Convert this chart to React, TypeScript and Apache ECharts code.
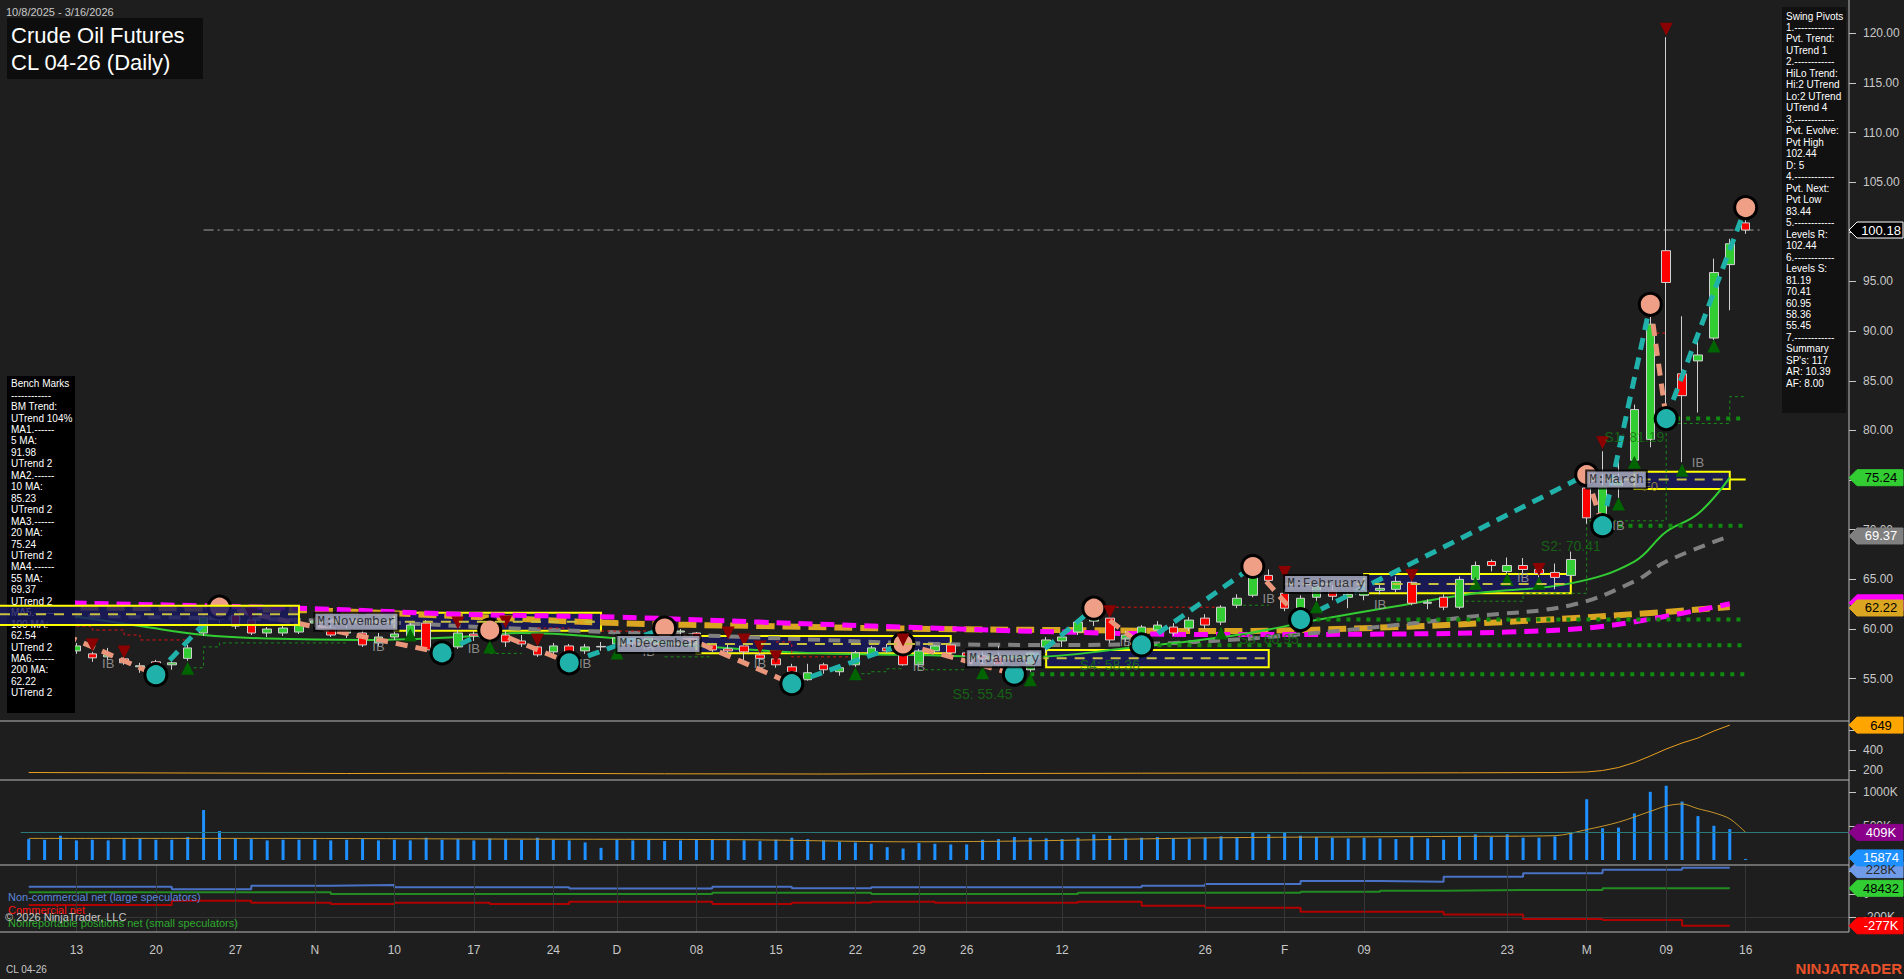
import React, { useEffect, useRef } from 'react';
import * as echarts from 'echarts';

const FONT = '"Liberation Sans", Arial, sans-serif';

const dates = [
  '2025-10-08','2025-10-09','2025-10-10','2025-10-13','2025-10-14','2025-10-15','2025-10-16','2025-10-17',
  '2025-10-20','2025-10-21','2025-10-22','2025-10-23','2025-10-24','2025-10-27','2025-10-28','2025-10-29','2025-10-30','2025-10-31',
  '2025-11-03','2025-11-04','2025-11-05','2025-11-06','2025-11-07','2025-11-10','2025-11-11','2025-11-12','2025-11-13','2025-11-14',
  '2025-11-17','2025-11-18','2025-11-19','2025-11-20','2025-11-21','2025-11-24','2025-11-25','2025-11-26','2025-11-28',
  '2025-12-01','2025-12-02','2025-12-03','2025-12-04','2025-12-05','2025-12-08','2025-12-09','2025-12-10','2025-12-11','2025-12-12',
  '2025-12-15','2025-12-16','2025-12-17','2025-12-18','2025-12-19','2025-12-22','2025-12-23','2025-12-24','2025-12-26',
  '2025-12-29','2025-12-30','2025-12-31','2026-01-02','2026-01-05','2026-01-06','2026-01-07','2026-01-08','2026-01-09',
  '2026-01-12','2026-01-13','2026-01-14','2026-01-15','2026-01-16','2026-01-20','2026-01-21','2026-01-22','2026-01-23',
  '2026-01-26','2026-01-27','2026-01-28','2026-01-29','2026-01-30','2026-02-02','2026-02-03','2026-02-04','2026-02-05','2026-02-06',
  '2026-02-09','2026-02-10','2026-02-11','2026-02-12','2026-02-13','2026-02-17','2026-02-18','2026-02-19','2026-02-20',
  '2026-02-23','2026-02-24','2026-02-25','2026-02-26','2026-02-27','2026-03-02','2026-03-03','2026-03-04','2026-03-05','2026-03-06',
  '2026-03-09','2026-03-10','2026-03-11','2026-03-12','2026-03-13','2026-03-16'
];
const padCats = ['p1', 'p2', 'p3', 'p4', 'p5', 'p6'];
const categories = dates.concat(padCats);

const openP = [
  60.7, 60.4, 59.8, 57.8, 57.5, 57.2, 57.0, 56.2, 56.7, 56.4,
  57.05, 59.6, 61.3, 61.4, 60.9, 59.6, 59.6, 59.7, 60.6, 60.1,
  59.6, 59.6, 58.6, 59.2, 59.3, 60.6, 58.0, 58.2, 59.5, 59.3,
  59.4, 58.8, 58.2, 57.7, 58.3, 57.8, 58.2, 58.5, 59.0, 58.7,
  59.2, 59.7, 59.6, 58.4, 58.0, 58.3, 57.4, 57.0, 56.2, 54.9,
  56.4, 55.7, 56.4, 57.4, 58.1, 57.4, 56.4, 57.8, 58.4, 57.6,
  57.3, 57.2, 56.4, 55.9, 58.2, 58.8, 59.7, 60.8, 61.1, 59.0,
  59.2, 59.9, 60.2, 60.1, 61.1, 60.7, 62.4, 63.4, 65.4, 63.6,
  62.1, 63.2, 63.9, 63.2, 63.4, 63.9, 64.0, 64.7, 62.6, 63.2,
  62.2, 65.0, 66.8, 65.8, 66.4, 66.0, 65.7, 65.4, 74.2, 71.3,
  74.4, 77.0, 79.1, 98.1, 85.7, 87.0, 89.3, 96.7, 100.9
];
const highP = [
  61.0, 60.6, 60.0, 58.6, 57.7, 58.1, 57.2, 56.6, 56.9, 56.9,
  58.4, 61.6, 62.2, 61.7, 61.1, 60.2, 60.5, 61.0, 61.2, 60.4,
  60.3, 59.9, 59.6, 59.9, 60.6, 60.9, 58.6, 59.9, 59.8, 59.9,
  59.8, 59.4, 58.5, 58.6, 58.5, 58.5, 58.7, 59.4, 59.3, 59.5,
  60.1, 60.0, 59.7, 58.6, 58.4, 58.6, 57.8, 57.4, 56.5, 56.5,
  56.6, 56.4, 57.8, 58.3, 58.5, 58.5, 58.0, 58.4, 58.7, 57.9,
  57.8, 58.3, 56.7, 57.9, 59.2, 59.6, 61.0, 62.1, 61.6, 59.8,
  60.4, 60.8, 60.6, 61.2, 61.5, 62.4, 63.5, 66.3, 66.0, 64.0,
  63.4, 64.9, 64.4, 63.6, 64.3, 64.6, 65.3, 65.0, 63.0, 63.5,
  65.3, 66.8, 67.0, 67.2, 67.15, 66.3, 66.6, 67.8, 75.55, 77.9,
  77.4, 82.6, 92.7, 119.6, 91.5, 89.1, 97.3, 99.3, 102.44
];
const lowP = [
  60.1, 59.6, 57.4, 57.5, 56.7, 56.9, 56.4, 55.6, 55.4, 55.9,
  56.8, 59.3, 60.6, 60.0, 59.4, 59.2, 59.3, 59.5, 60.2, 59.2,
  59.1, 58.2, 58.3, 58.9, 59.1, 57.8, 57.6, 58.0, 58.8, 59.0,
  58.2, 58.2, 57.2, 57.3, 56.6, 57.5, 57.8, 58.3, 58.3, 58.5,
  59.0, 59.3, 58.9, 57.7, 57.3, 56.8, 56.7, 56.1, 54.5, 54.8,
  55.5, 55.3, 56.2, 57.2, 57.6, 56.3, 56.2, 57.6, 57.4, 56.9,
  56.2, 56.2, 55.45, 55.7, 57.6, 58.2, 59.4, 60.3, 58.6, 58.7,
  58.4, 59.6, 59.3, 59.8, 60.0, 60.4, 62.1, 63.2, 64.5, 61.8,
  60.95, 62.6, 62.9, 62.1, 62.9, 63.5, 63.7, 62.4, 62.0, 61.9,
  62.0, 64.6, 65.8, 65.6, 65.5, 65.2, 64.0, 65.0, 70.6, 70.41,
  73.2, 76.8, 78.3, 81.19, 76.8, 81.8, 89.1, 92.1, 99.8
];
const closeP = [
  60.4, 59.8, 57.6, 58.3, 57.1, 57.4, 56.6, 56.3, 56.5, 56.6,
  58.1, 61.2, 61.0, 60.3, 59.6, 60.0, 60.1, 60.6, 60.8, 59.4,
  59.9, 58.4, 59.2, 59.5, 60.4, 57.9, 58.2, 59.6, 59.3, 59.7,
  58.7, 58.5, 57.4, 58.3, 57.7, 58.2, 58.25, 59.1, 58.6, 59.2,
  59.7, 59.8, 59.0, 57.9, 57.8, 57.7, 57.05, 56.4, 55.7, 55.6,
  55.9, 56.1, 57.6, 58.1, 57.8, 56.4, 57.8, 58.3, 57.6, 57.3,
  57.0, 56.4, 55.9, 57.6, 58.9, 59.2, 60.7, 61.4, 58.9, 59.4,
  60.2, 60.4, 59.6, 60.9, 60.4, 62.2, 63.1, 65.3, 64.9, 62.1,
  63.1, 64.3, 63.3, 63.5, 63.9, 64.1, 64.8, 62.6, 62.7, 62.2,
  65.0, 66.4, 66.4, 66.4, 66.0, 65.6, 65.2, 67.0, 71.2, 74.3,
  74.9, 82.1, 90.7, 94.9, 83.5, 87.6, 95.9, 98.8, 100.18
];

// volume in thousands of contracts
const volumeK = [
  310, 300, 360, 290, 300, 290, 310, 320, 300, 300, 340, 740, 430, 320, 310, 290, 300, 300,
  300, 290, 300, 310, 290, 300, 290, 330, 300, 310, 290, 320, 310, 300, 330, 300, 290, 260, 180,
  300, 290, 300, 280, 290, 300, 310, 300, 290, 280, 300, 330, 310, 290, 270, 260, 240, 190, 170, 250, 240, 230,
  230, 300, 310, 340, 330, 320, 310, 330, 380, 360, 320, 330, 340, 320, 310, 330, 350, 340, 400, 380,
  410, 360, 340, 330, 320, 330, 320, 310, 350, 320, 300, 350, 380, 340, 380, 330, 330, 350, 400,
  900, 470, 480, 690, 1010, 1100, 866, 650, 507, 458, 15.874
];
const volMaIdx = [0, 15, 30, 45, 55, 62, 75, 90, 96, 98, 100, 102, 103, 104, 105, 106, 107, 108];
const volMaVal = [320, 320, 310, 300, 270, 280, 330, 350, 360, 450, 560, 720, 800, 830, 760, 700, 610, 409];

const p2Idx = [0, 10, 20, 30, 40, 50, 60, 70, 80, 90, 96, 98, 99, 100, 101, 102, 103, 104, 105, 106, 107];
const p2Val = [175, 170, 165, 168, 162, 160, 165, 168, 170, 172, 175, 180, 195, 225, 275, 340, 410, 470, 520, 590, 649];

// moving averages (sampled)
const ma20Idx = [0, 3, 7, 11, 15, 21, 27, 31, 37, 43, 49, 55, 63, 69, 76, 81, 86, 91, 97, 101, 103, 105, 107];
const ma20Val = [61.8, 61.24, 60.3, 59.4, 59.05, 58.9, 59.2, 59.6, 59.07, 58.2, 57.6, 57.4, 57.2, 58.06, 59.4, 60.9, 62.3, 63.6, 64.6, 66.8, 69.8, 71.6, 75.24];
const ma55Idx = [0, 20, 30, 40, 50, 57, 65, 72, 78, 86, 91, 97, 101, 103, 107];
const ma55Val = [61.4, 60.8, 60.1, 59.5, 58.9, 58.5, 58.4, 58.6, 59.2, 60.4, 61.3, 62.4, 64.8, 66.8, 69.37];
const ma100Idx = [0, 17, 27, 37, 46, 55, 65, 75, 86, 93, 98, 102, 107];
const ma100Val = [62.7, 62.1, 61.5, 61.2, 60.7, 60.2, 59.7, 59.45, 59.5, 59.7, 60.1, 61.0, 62.54];
const ma200Idx = [0, 17, 27, 37, 46, 55, 65, 75, 86, 95, 101, 107];
const ma200Val = [62.2, 61.9, 61.3, 60.6, 60.3, 60.05, 59.9, 59.8, 60.2, 60.9, 61.5, 62.22];

// swing pivots (alternating high / low)
const pivotIdx = [0, 8, 12, 26, 29, 34, 40, 48, 55, 62, 67, 70, 77, 80, 98, 99, 102, 103, 108];
const pivotPrice = [61.0, 55.4, 62.2, 57.6, 59.9, 56.6, 60.1, 54.5, 58.5, 55.45, 62.1, 58.4, 66.3, 60.95, 75.55, 70.41, 92.7, 81.19, 102.44];

// support levels
const supStartIdx = [63, 71, 81, 100, 103];
const supLevel = [55.45, 58.36, 60.95, 70.41, 81.19];
const supText = ['S5: 55.45', 'S4: 58.36', 'S3: 60.95', 'S2: 70.41', 'S1: 81.19'];
const supTextIdx = [60, 68, 78, 97, 101];
const supTextPrice = [53.45, 56.4, 59.0, 68.4, 79.35];

// monthly boxes
const boxLabelIdx = [18, 37, 59, 79, 98];
const boxLabel = ['M:November', 'M:December', 'M:January', 'M:February', 'M:March'];
const boxStartIdx = [23, 42, 64, 84, 101];
const boxEndIdx = [36, 58, 78, 97, 107];
const boxTop = [61.65, 59.3, 57.89, 65.54, 75.85];
const boxBottom = [59.83, 57.56, 56.15, 63.6, 74.1];
const boxMid = [60.74, 58.5, 57.05, 64.54, 75.06];
const octBoxEndIdx = 17;
const octBoxTop = 62.35, octBoxBottom = 60.4, octBoxMid = 61.5;

// markers
const upTriIdx = [10, 24, 29, 37, 52, 60, 63, 75, 81, 91, 93, 95, 100, 101, 104, 106];
const upTriPrice = [56.05, 59.4, 58.2, 57.6, 55.5, 55.6, 54.9, 59.6, 62.25, 64.6, 65.0, 64.6, 72.6, 76.8, 76.0, 88.5];
const downTriIdx = [1, 4, 6, 14, 27, 30, 32, 44, 45, 46, 47, 55, 68, 79, 87, 95, 99, 103];
const downTriPrice = [62.6, 58.4, 57.7, 61.5, 60.6, 60.7, 58.9, 59.6, 58.9, 58.2, 57.2, 58.9, 61.75, 65.7, 65.4, 66.0, 78.75, 120.4];
const ibIdx = [5, 22, 28, 35, 39, 46, 56, 69, 78, 85, 94, 100, 105];
const ibPrice = [56.55, 58.2, 58.06, 56.55, 57.7, 56.5, 56.2, 58.7, 63.1, 62.5, 65.2, 70.4, 76.8];

// trailing stops (step lines) [barIndex, price]
const trailGreen = [
  [[10, 56.1], [11, 58.2], [12, 58.6], [20, 58.6]],
  [[29, 57.55], [31, 57.55]],
  [[40, 57.2], [43, 57.2]],
  [[52, 55.5], [53, 55.7], [54, 56.0], [55, 56.0]],
  [[56, 55.9], [59, 55.9]],
  [[76, 62.4], [78, 62.4]],
  [[90, 62.8], [94, 63.6], [98, 70.9], [103, 80.7], [107, 83.4], [108, 83.4]]
];
const trailRed = [
  [[3, 60.3], [4, 59.9], [6, 59.4], [7, 58.9], [10, 58.6]],
  [[32, 60.1], [34, 60.1]],
  [[36, 59.8], [39, 59.8]],
  [[47, 58.7], [48, 57.2], [52, 57.2]],
  [[68, 62.2], [75, 62.2]],
  [[102, 89.8], [103, 89.8]]
];

// COT weekly (thousands)
const cotIdx = [0, 9, 14, 19, 23, 29, 34, 43, 48, 53, 57, 66, 70, 74, 80, 85, 89, 94, 99, 104, 107];
const cotNonComm = [63, 40, 71, 77, 57, 57, 46, 63, 48, 57, 57, 57, 71, 86, 112, 106, 150, 180, 210, 228, 228];
const cotSmall = [14, 14, 14, 0, 0, 0, 0, 10, 10, 0, 0, 10, 10, 10, 19, 28, 34, 34, 48, 48.4, 48.4];
const cotComm = [-97, -59, -76, -88, -76, -88, -68, -88, -76, -68, -76, -68, -103, -120, -155, -155, -178, -218, -227, -277, -277];

const tickDates = ['2025-10-13','2025-10-20','2025-10-27','2025-11-03','2025-11-10','2025-11-17','2025-11-24','2025-12-01','2025-12-08','2025-12-15','2025-12-22','2025-12-29','2026-01-02','2026-01-12','2026-01-26','2026-02-02','2026-02-09','2026-02-23','2026-03-02','2026-03-09','2026-03-16'];
const tickLabels = ['13','20','27','N','10','17','24','D','08','15','22','29','26','12','26','F','09','23','M','09','16'];
const priceTicks = [55, 60, 65, 70, 75, 80, 85, 90, 95, 100, 105, 110, 115, 120];
const priceLabelTicks = [55, 60, 65, 70, 80, 85, 90, 95, 105, 110, 115, 120];

const benchLines = ['Bench Marks','------------','BM Trend:','UTrend 104%','MA1.------','5 MA:','91.98','UTrend 2','MA2.------','10 MA:','85.23','UTrend 2','MA3.------','20 MA:','75.24','UTrend 2','MA4.------','55 MA:','69.37','UTrend 2','MA5.------','100 MA:','62.54','UTrend 2','MA6.------','200 MA:','62.22','UTrend 2'];
const swingLines = ['Swing Pivots','1.------------','Pvt. Trend:','UTrend 1','2.------------','HiLo Trend:','Hi:2 UTrend','Lo:2 UTrend','UTrend 4','3.------------','Pvt. Evolve:','Pvt High','102.44','D: 5','4.------------','Pvt. Next:','Pvt Low','83.44','5.------------','Levels R:','102.44','6.------------','Levels S:','81.19','70.41','60.95','58.36','55.45','7.------------','Summary',"SP's: 117",'AR: 10.39','AF: 8.00'];

const GRID_L = 20.76;
const AXIS_X = 1849;

function pts(idx: number[], val: number[]) {
  return idx.map((k, i) => [categories[k], val[i]]);
}
function segs(list: number[][][]) {
  const out: any[] = [];
  list.forEach((s) => {
    s.forEach((p) => out.push([categories[p[0]], p[1]]));
    out.push([categories[s[s.length - 1][0]], '-']);
  });
  return out;
}

function buildOption() {
  const labelSet = new Set(tickDates);
  const labelMap: Record<string, string> = {};
  tickDates.forEach((d, i) => (labelMap[d] = tickLabels[i]));
  const intervalFn = (_i: number, v: string) => labelSet.has(v);

  const xAxis = [0, 1, 2, 3].map((g) => ({
    type: 'category', gridIndex: g, data: categories, boundaryGap: true,
    axisLine: { show: false },
    axisTick: g === 3 ? { show: true, alignWithLabel: true, interval: intervalFn, length: 6, lineStyle: { color: '#c8c8c8' } } : { show: false },
    axisLabel: g === 3 ? { show: true, interval: intervalFn, formatter: (v: string) => labelMap[v] || '', color: '#c8c8c8', fontSize: 12, fontFamily: FONT, margin: 12 } : { show: false },
    splitLine: { show: false },
  }));
  const yLab = (vals: number[], fmt: (v: number) => string) => ({
    show: true, color: '#c8c8c8', fontSize: 12, fontFamily: FONT, margin: 14, customValues: vals, formatter: fmt,
  });
  const yTick = (vals: number[]) => ({ show: true, length: 7, lineStyle: { color: '#c8c8c8' }, customValues: vals });
  const yAxis = [
    { type: 'value', gridIndex: 0, position: 'right', min: 50.74, max: 122.84, axisLine: { show: false }, splitLine: { show: false }, axisTick: yTick(priceTicks), axisLabel: yLab(priceLabelTicks, (v) => v.toFixed(2)) },
    { type: 'value', gridIndex: 1, position: 'right', min: 100, max: 690, axisLine: { show: false }, splitLine: { show: false }, axisTick: yTick([200, 400, 600]), axisLabel: yLab([200, 400], (v) => String(v)) },
    { type: 'value', gridIndex: 2, position: 'right', min: 0, max: 1185, axisLine: { show: false }, splitLine: { show: false }, axisTick: yTick([500, 1000]), axisLabel: yLab([500, 1000], (v) => v + 'K') },
    { type: 'value', gridIndex: 3, position: 'right', min: -331, max: 251, axisLine: { show: false }, splitLine: { show: false }, axisTick: yTick([-200, 0, 200]), axisLabel: yLab([-200, 0], (v) => (v === 0 ? '0' : v + 'K')) },
  ];

  const maLine = (name: string, idx: number[], val: number[], color: string, width: number, type: any) => ({
    name, type: 'line', xAxisIndex: 0, yAxisIndex: 0, z: 2, silent: true, symbol: 'none', smooth: 0.4,
    data: pts(idx, val), lineStyle: { color, width, type, cap: 'butt' },
  });

  const upLeg: any[] = [];
  const downLeg: any[] = [];
  for (let i = 0; i < pivotIdx.length - 1; i++) {
    const a = [categories[pivotIdx[i]], pivotPrice[i]];
    const b = [categories[pivotIdx[i + 1]], pivotPrice[i + 1]];
    const t = pivotPrice[i + 1] > pivotPrice[i] ? upLeg : downLeg;
    t.push(a, b, [categories[pivotIdx[i + 1]], '-']);
  }
  const highCircles: any[] = [];
  const lowCircles: any[] = [];
  for (let i = 1; i < pivotIdx.length; i++) {
    const prev = pivotPrice[i - 1];
    (pivotPrice[i] > prev ? highCircles : lowCircles).push([categories[pivotIdx[i]], pivotPrice[i]]);
  }

  const supData: any[] = [];
  supLevel.forEach((lv, i) => {
    supData.push([categories[supStartIdx[i]], lv], [categories[108], lv], [categories[108], '-']);
  });

  const midData: any[] = [];
  boxMid.forEach((m, i) => {
    midData.push([categories[boxLabelIdx[i]], m], [categories[boxEndIdx[i]], m], [categories[boxEndIdx[i]], '-']);
  });

  const series: any[] = [
    maLine('MA200', ma200Idx, ma200Val, '#daa520', 6, [18, 8]),
    maLine('MA100', ma100Idx, ma100Val, '#ff00ff', 5, [14, 8]),
    maLine('MA55', ma55Idx, ma55Val, '#808080', 4, [12, 8]),
    maLine('MA20', ma20Idx, ma20Val, '#32cd32', 2, 'solid'),
    {
      name: 'Supports', type: 'line', xAxisIndex: 0, yAxisIndex: 0, z: 2, silent: true, symbol: 'none',
      data: supData, lineStyle: { color: '#118a11', width: 4, type: [4, 6], cap: 'butt' },
    },
    {
      name: 'TrailG', type: 'line', step: 'end', xAxisIndex: 0, yAxisIndex: 0, z: 2, silent: true, symbol: 'none',
      data: segs(trailGreen), lineStyle: { color: '#1a8a1a', width: 1, type: [3, 3] },
    },
    {
      name: 'TrailR', type: 'line', step: 'end', xAxisIndex: 0, yAxisIndex: 0, z: 2, silent: true, symbol: 'none',
      data: segs(trailRed), lineStyle: { color: '#dd1111', width: 1, type: [3, 3] },
    },
    {
      name: 'Last', type: 'line', xAxisIndex: 0, yAxisIndex: 0, z: 2, silent: true, symbol: 'none',
      data: [[categories[11], closeP[108]], ['p1', closeP[108]]],
      lineStyle: { color: '#a0a0a0', width: 1, type: [10, 4, 2, 4] },
    },
    {
      name: 'CL', type: 'candlestick', xAxisIndex: 0, yAxisIndex: 0, z: 3, silent: true, barWidth: 9,
      data: dates.map((_, i) => [openP[i], closeP[i], lowP[i], highP[i]]),
      itemStyle: { color: '#32cd32', color0: '#ff0000', borderColor: '#d0d0d0', borderColor0: '#d0d0d0', borderWidth: 1 },
    },
    {
      name: 'SwingUp', type: 'line', xAxisIndex: 0, yAxisIndex: 0, z: 4, silent: true, symbol: 'none',
      data: upLeg, lineStyle: { color: '#20b2aa', width: 5, type: [12, 8], cap: 'butt' },
    },
    {
      name: 'SwingDown', type: 'line', xAxisIndex: 0, yAxisIndex: 0, z: 4, silent: true, symbol: 'none',
      data: downLeg, lineStyle: { color: '#e9967a', width: 5, type: [12, 8], cap: 'butt' },
    },
    {
      name: 'PivHi', type: 'scatter', xAxisIndex: 0, yAxisIndex: 0, z: 5, silent: true, symbol: 'circle', symbolSize: 22,
      data: highCircles, itemStyle: { color: '#ee9f86', borderColor: '#000', borderWidth: 3, opacity: 1 },
    },
    {
      name: 'PivLo', type: 'scatter', xAxisIndex: 0, yAxisIndex: 0, z: 5, silent: true, symbol: 'circle', symbolSize: 22,
      data: lowCircles, itemStyle: { color: '#20b2aa', borderColor: '#000', borderWidth: 3, opacity: 1 },
    },
    {
      name: 'UpTri', type: 'scatter', xAxisIndex: 0, yAxisIndex: 0, z: 5, silent: true, symbol: 'triangle', symbolSize: [13, 13],
      data: pts(upTriIdx, upTriPrice), itemStyle: { color: '#006400', opacity: 1 },
    },
    {
      name: 'DnTri', type: 'scatter', xAxisIndex: 0, yAxisIndex: 0, z: 5, silent: true, symbol: 'triangle', symbolRotate: 180, symbolSize: [13, 13],
      data: pts(downTriIdx, downTriPrice), itemStyle: { color: '#8b0000', opacity: 1 },
    },
    {
      name: 'Boxes', type: 'line', xAxisIndex: 0, yAxisIndex: 0, z: 7, silent: true, symbol: 'none',
      data: midData, lineStyle: { color: '#c8c040', width: 2, type: [10, 8] },
      markArea: {
        silent: true, label: { show: false },
        itemStyle: { color: 'rgba(24,24,96,0.82)', borderColor: '#ffff00', borderWidth: 2 },
        data: boxStartIdx.map((s, i) => [
          { xAxis: categories[s], yAxis: boxTop[i] },
          { xAxis: categories[boxEndIdx[i]], yAxis: boxBottom[i] },
        ]),
      },
    },
    {
      name: 'MarchLine', type: 'line', xAxisIndex: 0, yAxisIndex: 0, z: 8, silent: true, symbol: 'none',
      data: [[categories[107], boxMid[4]], [categories[108], boxMid[4]]], lineStyle: { color: '#ffff00', width: 2 },
    },
    {
      name: 'MonthLabels', type: 'scatter', xAxisIndex: 0, yAxisIndex: 0, z: 9, silent: true, symbolSize: 1,
      itemStyle: { color: 'transparent' },
      data: boxLabelIdx.map((k, i) => [categories[k], boxMid[i], boxLabel[i]]),
      label: {
        show: true, position: 'right', distance: 0, formatter: (p: any) => p.value[2],
        color: '#111', fontFamily: '"Liberation Mono", monospace', fontSize: 13,
        backgroundColor: '#b4b8d2', borderColor: '#000', borderWidth: 2, padding: [2, 2, 1, 2],
      },
    },
    {
      name: 'IB', type: 'scatter', xAxisIndex: 0, yAxisIndex: 0, z: 8, silent: true, symbolSize: 1,
      itemStyle: { color: 'transparent' }, data: pts(ibIdx, ibPrice),
      label: { show: true, position: 'inside', formatter: 'IB', color: '#a8a8a8', fontSize: 13, fontFamily: FONT },
    },
    {
      name: 'SLabels', type: 'scatter', xAxisIndex: 0, yAxisIndex: 0, z: 8, silent: true, symbolSize: 1,
      itemStyle: { color: 'transparent' },
      data: supTextIdx.map((k, i) => [categories[k], supTextPrice[i], supText[i]]),
      label: { show: true, position: 'inside', formatter: (p: any) => p.value[2], color: '#137313', fontSize: 14, fontFamily: FONT },
    },
    {
      name: 'F0', type: 'scatter', xAxisIndex: 0, yAxisIndex: 0, z: 8, silent: true, symbolSize: 1,
      itemStyle: { color: 'transparent' }, data: [[categories[102], 74.4]],
      label: { show: true, position: 'inside', formatter: 'F0', color: '#a89a30', fontSize: 13, fontFamily: FONT },
    },
    {
      name: 'Panel2', type: 'line', xAxisIndex: 1, yAxisIndex: 1, silent: true, symbol: 'none',
      data: pts(p2Idx, p2Val), lineStyle: { color: '#e8a020', width: 1 },
    },
    {
      name: 'Volume', type: 'bar', xAxisIndex: 2, yAxisIndex: 2, silent: true, barWidth: 3,
      data: volumeK, itemStyle: { color: '#1e90ff' },
      markLine: {
        silent: true, symbol: ['none', 'none'], label: { show: false },
        lineStyle: { color: '#2a7a7a', width: 1, type: 'solid' }, data: [{ yAxis: 409 }],
      },
    },
    {
      name: 'VolMA', type: 'line', xAxisIndex: 2, yAxisIndex: 2, silent: true, symbol: 'none', smooth: 0.3,
      data: pts(volMaIdx, volMaVal), lineStyle: { color: '#c8962a', width: 1 },
    },
    {
      name: 'NonComm', type: 'line', step: 'end', xAxisIndex: 3, yAxisIndex: 3, silent: true, symbol: 'none',
      data: pts(cotIdx, cotNonComm), lineStyle: { color: '#4a72c4', width: 2 },
      markLine: {
        silent: true, symbol: ['none', 'none'], label: { show: false },
        lineStyle: { color: '#363636', width: 1, type: 'solid' },
        data: tickDates.map((d) => ({ xAxis: d })).concat([{ yAxis: -200 } as any]),
      },
    },
    {
      name: 'Small', type: 'line', step: 'end', xAxisIndex: 3, yAxisIndex: 3, silent: true, symbol: 'none',
      data: pts(cotIdx, cotSmall), lineStyle: { color: '#228b22', width: 2 },
    },
    {
      name: 'Comm', type: 'line', step: 'end', xAxisIndex: 3, yAxisIndex: 3, silent: true, symbol: 'none',
      data: pts(cotIdx, cotComm), lineStyle: { color: '#b00000', width: 2 },
    },
  ];

  return {
    animation: false,
    backgroundColor: '#1e1e1e',
    textStyle: { fontFamily: FONT },
    grid: [
      { left: GRID_L, right: 1904 - AXIS_X, top: 5, height: 716 },
      { left: GRID_L, right: 1904 - AXIS_X, top: 721, height: 59 },
      { left: GRID_L, right: 1904 - AXIS_X, top: 780, height: 80 },
      { left: GRID_L, right: 1904 - AXIS_X, top: 865, height: 67 },
    ],
    xAxis, yAxis, series,
  };
}

function textBlock(x: number, y: number, lines: string[], font: string, lh: number, fill: string, z: number) {
  return {
    type: 'text', x, y, z,
    style: { text: lines.join('\n'), font, fill, lineHeight: lh, textVerticalAlign: 'top', verticalAlign: 'top' },
  };
}

function tag(y: number, text: string, bg: string, fg: string, stroke?: string) {
  const out: any[] = [
    {
      type: 'polygon', z: 30,
      shape: { points: [[AXIS_X, y], [AXIS_X + 8, y - 8], [1903, y - 8], [1903, y + 8], [AXIS_X + 8, y + 8]] },
      style: { fill: bg, stroke: stroke || bg, lineWidth: 1 },
    },
  ];
  if (text) {
    out.push({
      type: 'text', z: 31, x: 1881, y,
      style: { text, fill: fg, font: '13px ' + FONT, textAlign: 'center', textVerticalAlign: 'middle', verticalAlign: 'middle' },
    });
  }
  return out;
}

function buildGraphics(chart: any) {
  const py = (v: number, ax: number) => chart.convertToPixel({ yAxisIndex: ax }, v);
  const px = (c: string) => chart.convertToPixel({ xAxisIndex: 0 }, c);
  const g: any[] = [];
  // panel separators & axis lines
  [721, 780, 865, 932].forEach((y) =>
    g.push({ type: 'line', z: 10, shape: { x1: 0, y1: y, x2: AXIS_X, y2: y }, style: { stroke: '#b8b8b8', lineWidth: 1 } })
  );
  g.push({ type: 'line', z: 10, shape: { x1: AXIS_X, y1: 0, x2: AXIS_X, y2: 932 }, style: { stroke: '#b8b8b8', lineWidth: 1 } });

  // October box (extends past left edge)
  const octRight = px(categories[octBoxEndIdx]);
  const oT = py(octBoxTop, 0), oB = py(octBoxBottom, 0), oM = py(octBoxMid, 0);
  g.push({ type: 'rect', z: 7, shape: { x: -3, y: oT, width: octRight + 3, height: oB - oT }, style: { fill: 'rgba(24,24,96,0.82)', stroke: '#ffff00', lineWidth: 2 } });
  g.push({ type: 'line', z: 7, shape: { x1: 0, y1: oM, x2: octRight, y2: oM }, style: { stroke: '#c8c040', lineWidth: 2, lineDash: [10, 8] } });

  // title
  g.push({ type: 'text', z: 12, x: 6, y: 12, style: { text: '10/8/2025 - 3/16/2026', font: '11px ' + FONT, fill: '#c8c8c8', textVerticalAlign: 'middle', verticalAlign: 'middle' } });
  g.push({ type: 'rect', z: 11, shape: { x: 7, y: 18, width: 196, height: 61 }, style: { fill: '#0d0d0d' } });
  g.push({ type: 'text', z: 12, x: 11, y: 35, style: { text: 'Crude Oil Futures', font: '22px ' + FONT, fill: '#ffffff', textVerticalAlign: 'middle', verticalAlign: 'middle' } });
  g.push({ type: 'text', z: 12, x: 11, y: 62, style: { text: 'CL 04-26 (Daily)', font: '22px ' + FONT, fill: '#ffffff', textVerticalAlign: 'middle', verticalAlign: 'middle' } });

  // bench marks panel
  g.push({ type: 'rect', z: 6, shape: { x: 7, y: 376, width: 68, height: 337 }, style: { fill: '#000000' } });
  g.push(textBlock(11, 378, benchLines, '10px ' + FONT, 11.45, '#ffffff', 6));
  // swing pivots panel
  g.push({ type: 'rect', z: 6, shape: { x: 1782, y: 7, width: 64, height: 406 }, style: { fill: '#111111' } });
  g.push(textBlock(1786, 10.3, swingLines, '10px ' + FONT, 11.48, '#ffffff', 6));

  // COT legend
  const leg = (y: number, text: string, fill: string, x = 8) =>
    g.push({ type: 'text', z: 12, x, y, style: { text, font: '11px ' + FONT, fill, textVerticalAlign: 'middle', verticalAlign: 'middle' } });
  leg(897, 'Non-commercial net (large speculators)', '#5a86dc');
  leg(910, 'Commercial net', '#ff1010');
  leg(922.5, 'Nonreportable positions net (small speculators)', '#2eaa2e');
  leg(917, '\u00a9 2026 NinjaTrader, LLC', '#c8c8c8', 5);

  g.push({ type: 'text', z: 12, x: 6, y: 969, style: { text: 'CL 04-26', font: '10px ' + FONT, fill: '#c8c8c8', textVerticalAlign: 'middle', verticalAlign: 'middle' } });
  g.push({ type: 'text', z: 12, x: 1902, y: 968, style: { text: 'NINJATRADER', font: 'bold 15px ' + FONT, fill: '#e8522a', textAlign: 'right', textVerticalAlign: 'middle', verticalAlign: 'middle' } });

  // right-side value tags
  g.push(...tag(py(100.18, 0), '100.18', '#000000', '#ffffff', '#ffffff'));
  g.push(...tag(py(75.24, 0), '75.24', '#32cd32', '#000000'));
  g.push(...tag(py(69.37, 0), '69.37', '#808080', '#ffffff'));
  g.push(...tag(py(62.54, 0) - 1, '', '#ff00ff', '#000000'));
  g.push(...tag(py(62.22, 0) + 1, '62.22', '#daa520', '#000000'));
  g.push(...tag(py(649, 1), '649', '#ffa500', '#000000'));
  g.push(...tag(py(409, 2), '409K', '#8b008b', '#ffffff'));
  g.push(...tag(py(228, 3) + 2, '228K', '#6f9be8', '#2a2a2a'));
  g.push(...tag(py(15.874, 2) - 1, '15874', '#1e90ff', '#ffffff'));
  g.push(...tag(py(48.432, 3), '48432', '#32cd32', '#000000'));
  g.push(...tag(py(-277, 3), '-277K', '#ff0000', '#ffffff'));
  return g;
}

export default function App() {
  const ref = useRef<HTMLDivElement>(null);
  useEffect(() => {
    const prev = document.body.style.margin;
    document.body.style.margin = '0';
    const chart = echarts.init(ref.current as HTMLDivElement, null, { renderer: 'svg' });
    chart.setOption(buildOption() as any);
    chart.setOption({ graphic: buildGraphics(chart) } as any);
    return () => {
      chart.dispose();
      document.body.style.margin = prev;
    };
  }, []);
  return <div ref={ref} style={{ position: 'absolute', left: 0, top: 0, width: 1904, height: 979, background: '#1e1e1e' }} />;
}
